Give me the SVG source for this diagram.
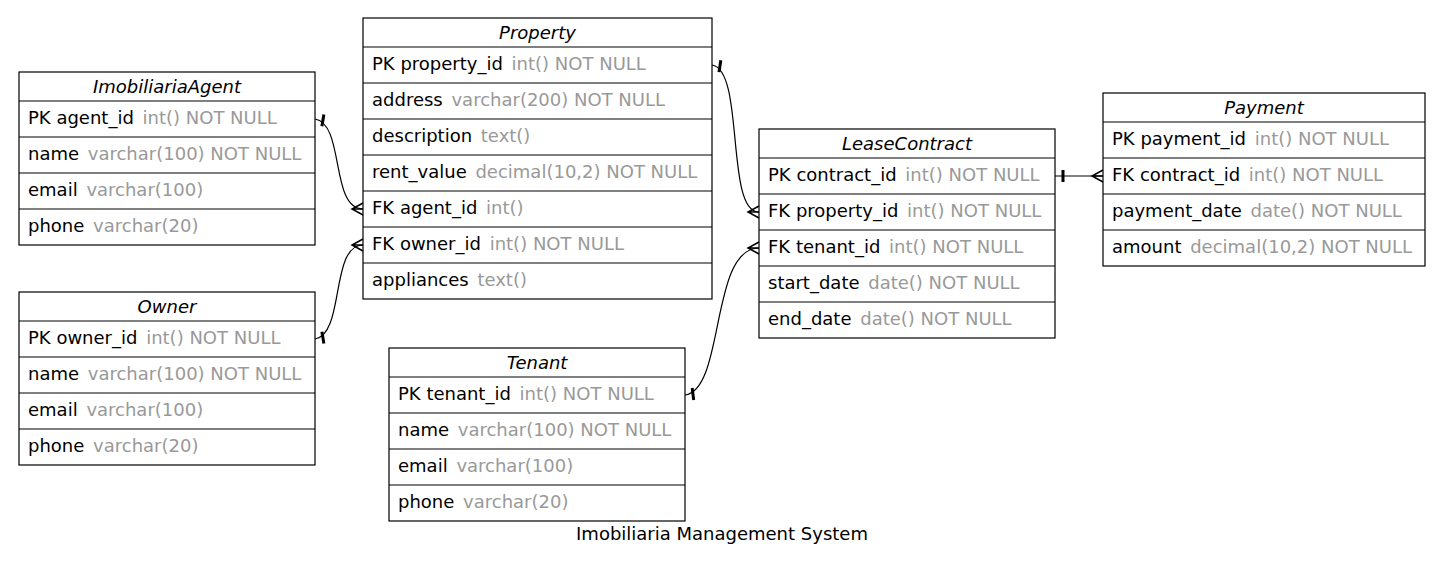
<svg xmlns="http://www.w3.org/2000/svg" width="1445" height="570" viewBox="0 0 1445 570">
<style>
.box{fill:#fff;stroke:#000;stroke-width:1.2}
.sep{stroke:#000;stroke-width:1.2}
text{font-family:"DejaVu Sans",sans-serif;font-size:18px;fill:#000}
.h{font-style:italic;text-anchor:middle}
.g{fill:#999}
.e{fill:none;stroke:#000;stroke-width:1.2;marker-start:url(#tee);marker-end:url(#crow)}
</style>
<defs>
<marker id="crow" markerUnits="userSpaceOnUse" viewBox="-14 -8 16 16" refX="0" refY="0" markerWidth="16" markerHeight="16" orient="auto" overflow="visible">
<path d="M0,-6 L-11,0 L0,6 M-11,0 L0,0" fill="none" stroke="#000" stroke-width="1.5"/>
</marker>
<marker id="tee" markerUnits="userSpaceOnUse" viewBox="-2 -8 16 16" refX="0" refY="0" markerWidth="16" markerHeight="16" orient="auto" overflow="visible">
<path d="M8,-6 L8,6" stroke="#000" stroke-width="3"/>
</marker>
</defs>
<rect width="1445" height="570" fill="#fff"/>

<g id="ImobiliariaAgent">
<rect class="box" x="19" y="72" width="296" height="173"/>
<path class="sep" d="M19,101H315M19,137H315M19,173H315M19,209H315"/>
<text class="h" x="167" y="93">ImobiliariaAgent</text>
<text x="28" y="124">PK agent_id <tspan class="g" dx="3">int() NOT NULL</tspan></text>
<text x="28" y="160">name <tspan class="g" dx="3">varchar(100) NOT NULL</tspan></text>
<text x="28" y="196">email <tspan class="g" dx="3">varchar(100)</tspan></text>
<text x="28" y="232">phone <tspan class="g" dx="3">varchar(20)</tspan></text>
</g>

<g id="Owner">
<rect class="box" x="19" y="292" width="296" height="173"/>
<path class="sep" d="M19,321H315M19,357H315M19,393H315M19,429H315"/>
<text class="h" x="167" y="313">Owner</text>
<text x="28" y="344">PK owner_id <tspan class="g" dx="3">int() NOT NULL</tspan></text>
<text x="28" y="380">name <tspan class="g" dx="3">varchar(100) NOT NULL</tspan></text>
<text x="28" y="416">email <tspan class="g" dx="3">varchar(100)</tspan></text>
<text x="28" y="452">phone <tspan class="g" dx="3">varchar(20)</tspan></text>
</g>

<g id="Property">
<rect class="box" x="363" y="18" width="349" height="281"/>
<path class="sep" d="M363,47H712M363,83H712M363,119H712M363,155H712M363,191H712M363,227H712M363,263H712"/>
<text class="h" x="537.5" y="39">Property</text>
<text x="372" y="70">PK property_id <tspan class="g" dx="3">int() NOT NULL</tspan></text>
<text x="372" y="106">address <tspan class="g" dx="3">varchar(200) NOT NULL</tspan></text>
<text x="372" y="142">description <tspan class="g" dx="3">text()</tspan></text>
<text x="372" y="178">rent_value <tspan class="g" dx="3">decimal(10,2) NOT NULL</tspan></text>
<text x="372" y="214">FK agent_id <tspan class="g" dx="3">int()</tspan></text>
<text x="372" y="250">FK owner_id <tspan class="g" dx="3">int() NOT NULL</tspan></text>
<text x="372" y="286">appliances <tspan class="g" dx="3">text()</tspan></text>
</g>

<g id="Tenant">
<rect class="box" x="389" y="348" width="296" height="173"/>
<path class="sep" d="M389,377H685M389,413H685M389,449H685M389,485H685"/>
<text class="h" x="537" y="369">Tenant</text>
<text x="398" y="400">PK tenant_id <tspan class="g" dx="3">int() NOT NULL</tspan></text>
<text x="398" y="436">name <tspan class="g" dx="3">varchar(100) NOT NULL</tspan></text>
<text x="398" y="472">email <tspan class="g" dx="3">varchar(100)</tspan></text>
<text x="398" y="508">phone <tspan class="g" dx="3">varchar(20)</tspan></text>
</g>

<g id="LeaseContract">
<rect class="box" x="759" y="129" width="296" height="209"/>
<path class="sep" d="M759,158H1055M759,194H1055M759,230H1055M759,266H1055M759,302H1055"/>
<text class="h" x="907" y="150">LeaseContract</text>
<text x="768" y="181">PK contract_id <tspan class="g" dx="3">int() NOT NULL</tspan></text>
<text x="768" y="217">FK property_id <tspan class="g" dx="3">int() NOT NULL</tspan></text>
<text x="768" y="253">FK tenant_id <tspan class="g" dx="3">int() NOT NULL</tspan></text>
<text x="768" y="289">start_date <tspan class="g" dx="3">date() NOT NULL</tspan></text>
<text x="768" y="325">end_date <tspan class="g" dx="3">date() NOT NULL</tspan></text>
</g>

<g id="Payment">
<rect class="box" x="1103" y="93" width="322" height="173"/>
<path class="sep" d="M1103,122H1425M1103,158H1425M1103,194H1425M1103,230H1425"/>
<text class="h" x="1264" y="114">Payment</text>
<text x="1112" y="145">PK payment_id <tspan class="g" dx="3">int() NOT NULL</tspan></text>
<text x="1112" y="181">FK contract_id <tspan class="g" dx="3">int() NOT NULL</tspan></text>
<text x="1112" y="217">payment_date <tspan class="g" dx="3">date() NOT NULL</tspan></text>
<text x="1112" y="253">amount <tspan class="g" dx="3">decimal(10,2) NOT NULL</tspan></text>
</g>

<g id="connectors">
<path class="e" d="M315,119 C345,124 330,209 363,209"/>
<path class="e" d="M315,339 C345,334 330,245 363,245"/>
<path class="e" d="M712,65 C745,70 725,212 759,212"/>
<path class="e" d="M685,395 C725,390 710,248 759,248"/>
<path class="e" d="M1055,176 L1103,176"/>
</g>

<text x="722" y="540" text-anchor="middle">Imobiliaria Management System</text>
</svg>
